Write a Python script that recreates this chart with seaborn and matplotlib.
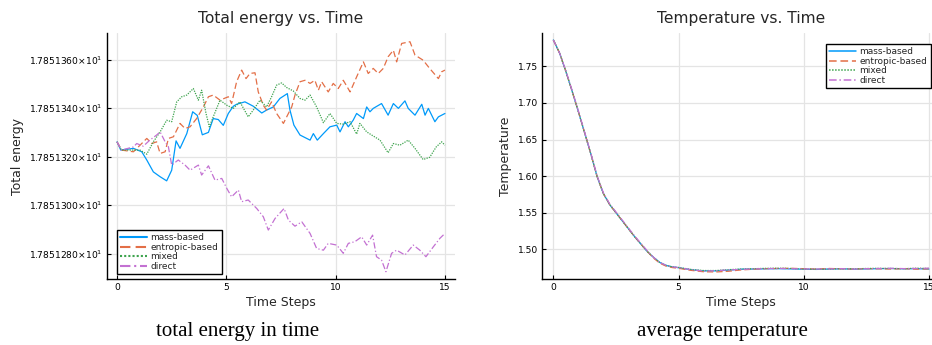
import matplotlib
matplotlib.use("Agg")
import matplotlib.pyplot as plt
import seaborn as sns
import pandas as pd
from matplotlib.lines import Line2D

# ---------------- data ----------------
methods = ["mass-based", "entropic-based", "mixed", "direct"]

t_mass = [0, 0.17, 0.75, 1.13, 1.36, 1.66, 1.97, 2.27, 2.5, 2.7, 2.88, 3.19, 3.46, 3.67, 3.9, 4.18, 4.4,
          4.63, 4.86, 5.09, 5.32, 5.47, 5.85, 6.23, 6.62, 6.84, 7.15, 7.45, 7.79, 7.91, 8.09, 8.37,
          8.83, 8.98, 9.16, 9.44, 9.74, 10.05, 10.2, 10.43, 10.58, 10.8, 10.96, 11.27, 11.42, 11.57,
          11.72, 12.1, 12.4, 12.64, 12.87, 13.17, 13.32, 13.63, 13.94, 14.09, 14.24, 14.54, 14.7, 15.0]
e_mass = [17.8513261, 17.8513227, 17.8513234, 17.8513220, 17.8513186, 17.8513137, 17.8513117,
          17.8513100, 17.8513144, 17.8513265, 17.8513234, 17.8513295, 17.8513385, 17.8513370,
          17.8513290, 17.8513300, 17.8513357, 17.8513353, 17.8513329, 17.8513378, 17.8513408,
          17.8513416, 17.8513426, 17.8513408, 17.8513380, 17.8513392, 17.8513405, 17.8513440,
          17.8513460, 17.8513392, 17.8513330, 17.8513289, 17.8513268, 17.8513295, 17.8513268,
          17.8513295, 17.8513323, 17.8513330, 17.8513302, 17.8513344, 17.8513323, 17.8513350,
          17.8513378, 17.8513357, 17.8513405, 17.8513385, 17.8513399, 17.8513419, 17.8513371,
          17.8513419, 17.8513399, 17.8513430, 17.8513399, 17.8513371, 17.8513416, 17.8513371,
          17.8513399, 17.8513344, 17.8513364, 17.8513378]

t_entr = [0, 0.2, 0.75, 1.05, 1.36, 1.59, 1.81, 1.97, 2.2, 2.35, 2.58, 2.88, 3.11, 3.34, 3.64, 3.95,
          4.18, 4.4, 4.71, 5.09, 5.24, 5.47, 5.7, 5.9, 6.08, 6.31, 6.46, 6.69, 6.84, 7.07, 7.3, 7.61,
          7.76, 7.99, 8.14, 8.37, 8.6, 8.83, 9.05, 9.21, 9.36, 9.66, 9.89, 10.12, 10.35, 10.66,
          10.96, 11.27, 11.49, 11.72, 11.95, 12.18, 12.4, 12.64, 12.79, 13.02, 13.4, 13.63, 14.0,
          14.3, 14.7, 14.85, 15.0]
e_entr = [17.8513261, 17.8513227, 17.8513220, 17.8513247, 17.8513275, 17.8513254, 17.8513261,
          17.8513213, 17.8513220, 17.8513275, 17.8513282, 17.8513337, 17.8513316, 17.8513323,
          17.8513357, 17.8513405, 17.8513447, 17.8513454, 17.8513433, 17.8513447, 17.8513419,
          17.8513509, 17.8513557, 17.8513522, 17.8513543, 17.8513546, 17.8513467, 17.8513412,
          17.8513392, 17.8513426, 17.8513378, 17.8513337, 17.8513364, 17.8513405, 17.8513454,
          17.8513509, 17.8513515, 17.8513502, 17.8513515, 17.8513474, 17.8513509, 17.8513467,
          17.8513502, 17.8513481, 17.8513515, 17.8513467, 17.8513529, 17.8513591, 17.8513543,
          17.8513564, 17.8513543, 17.8513564, 17.8513612, 17.8513639, 17.8513591, 17.8513667,
          17.8513674, 17.8513619, 17.8513598, 17.8513564, 17.8513522, 17.8513550, 17.8513557]

t_mix = [0, 0.2, 1.05, 1.36, 1.66, 1.97, 2.27, 2.5, 2.73, 2.96, 3.19, 3.49, 3.72, 3.87, 4.07, 4.22,
         4.4, 4.71, 5.02, 5.32, 5.62, 6.0, 6.23, 6.54, 6.84, 7.07, 7.3, 7.53, 7.76, 8.06, 8.37, 8.6,
         8.83, 9.13, 9.44, 9.74, 10.05, 10.35, 10.66, 10.96, 11.11, 11.42, 11.72, 12.03, 12.4, 12.64,
         12.94, 13.32, 13.63, 14.0, 14.3, 14.6, 14.85, 15.0]
e_mix = [17.8513261, 17.8513227, 17.8513227, 17.8513210, 17.8513261, 17.8513302, 17.8513350,
         17.8513344, 17.8513426, 17.8513447, 17.8513454, 17.8513481, 17.8513433, 17.8513474,
         17.8513378, 17.8513323, 17.8513364, 17.8513433, 17.8513412, 17.8513399, 17.8513426,
         17.8513364, 17.8513392, 17.8513433, 17.8513405, 17.8513447, 17.8513495, 17.8513504,
         17.8513485, 17.8513471, 17.8513440, 17.8513433, 17.8513454, 17.8513405, 17.8513340,
         17.8513378, 17.8513337, 17.8513334, 17.8513344, 17.8513293, 17.8513337, 17.8513302,
         17.8513285, 17.8513268, 17.8513216, 17.8513254, 17.8513247, 17.8513268, 17.8513234,
         17.8513188, 17.8513197, 17.8513240, 17.8513261, 17.8513247]

t_dir = [0, 0.2, 0.75, 0.9, 1.2, 1.5, 1.81, 1.97, 2.2, 2.35, 2.5, 2.8, 3.11, 3.34, 3.72, 3.87, 4.18,
         4.48, 4.79, 5.02, 5.24, 5.55, 5.7, 6.0, 6.39, 6.69, 6.92, 7.23, 7.64, 7.84, 8.14, 8.45,
         8.83, 9.13, 9.44, 9.66, 10.05, 10.35, 10.58, 10.88, 11.19, 11.42, 11.69, 11.87, 12.1,
         12.3, 12.56, 12.79, 13.17, 13.55, 13.85, 14.13, 14.47, 14.77, 15.0]
e_dir = [17.8513261, 17.8513227, 17.8513240, 17.8513254, 17.8513243, 17.8513268, 17.8513289,
         17.8513302, 17.8513261, 17.8513240, 17.8513165, 17.8513186, 17.8513165, 17.8513144,
         17.8513165, 17.8513124, 17.8513162, 17.8513103, 17.8513110, 17.8513069, 17.8513034,
         17.8513062, 17.8513014, 17.8513021, 17.8512986, 17.8512952, 17.8512897, 17.8512945,
         17.8512986, 17.8512938, 17.8512913, 17.8512931, 17.8512883, 17.8512821, 17.8512814,
         17.8512842, 17.8512835, 17.8512801, 17.8512842, 17.8512849, 17.8512869, 17.8512835,
         17.8512876, 17.8512787, 17.8512773, 17.8512725, 17.8512801, 17.8512814, 17.8512794,
         17.8512835, 17.8512814, 17.8512787, 17.8512828, 17.8512863, 17.8512883]

energy_ticks = [17.851280, 17.851300, 17.851320, 17.851340, 17.851360]
energy_labels = ["1.7851280", "1.7851300", "1.7851320", "1.7851340", "1.7851360"]

t_temp = [0, 0.25, 0.5, 0.75, 1.0, 1.25, 1.5, 1.75, 2.0, 2.25, 2.5, 2.75, 3.0, 3.25, 3.5, 3.75,
          4.0, 4.25, 4.5, 4.75, 5.0, 5.5, 6.0, 6.5, 7.0, 7.5, 8.0, 8.5, 9.0, 9.5, 10.0, 10.5, 11.0,
          11.5, 12.0, 12.5, 13.0, 13.5, 14.0, 14.5, 15.0]
T_mass = [1.786, 1.768, 1.743, 1.716, 1.688, 1.659, 1.630, 1.599, 1.576, 1.561, 1.550, 1.539,
          1.528, 1.517, 1.507, 1.497, 1.489, 1.482, 1.478, 1.476, 1.4748, 1.4720, 1.4705, 1.4705,
          1.4715, 1.4728, 1.4730, 1.4733, 1.4735, 1.4732, 1.4728, 1.4725, 1.4730, 1.4733, 1.4728,
          1.4732, 1.4735, 1.4737, 1.4733, 1.4735, 1.4730]
T_entr = [1.786, 1.768, 1.743, 1.716, 1.688, 1.659, 1.630, 1.599, 1.576, 1.561, 1.550, 1.539,
          1.528, 1.517, 1.507, 1.497, 1.488, 1.481, 1.477, 1.475, 1.4740, 1.4712, 1.4693, 1.4690,
          1.4700, 1.4718, 1.4728, 1.4735, 1.4738, 1.4740, 1.4735, 1.4730, 1.4738, 1.4733, 1.4730,
          1.4735, 1.4733, 1.4730, 1.4735, 1.4728, 1.4732]
T_mix = [1.786, 1.768, 1.743, 1.716, 1.688, 1.659, 1.630, 1.599, 1.576, 1.561, 1.550, 1.539,
         1.528, 1.517, 1.507, 1.497, 1.489, 1.482, 1.478, 1.476, 1.4752, 1.4725, 1.4710, 1.4710,
         1.4722, 1.4730, 1.4735, 1.4740, 1.4742, 1.4738, 1.4730, 1.4728, 1.4728, 1.4735, 1.4733,
         1.4738, 1.4740, 1.4738, 1.4735, 1.4742, 1.4738]
T_dir = [1.786, 1.768, 1.744, 1.717, 1.689, 1.660, 1.631, 1.600, 1.577, 1.562, 1.551, 1.540,
         1.529, 1.518, 1.508, 1.498, 1.489, 1.482, 1.478, 1.476, 1.4750, 1.4722, 1.4702, 1.4708,
         1.4718, 1.4725, 1.4732, 1.4736, 1.4738, 1.4735, 1.4732, 1.4730, 1.4732, 1.4736, 1.4730,
         1.4735, 1.4738, 1.4740, 1.4736, 1.4738, 1.4742]
temp_ticks = [1.50, 1.55, 1.60, 1.65, 1.70, 1.75]

# ---------------- style ----------------
colors = ["#009AFA", "#E36F47", "#3EA44E", "#C371D2"]
dashes = {"mass-based": "", "entropic-based": (5, 2.5), "mixed": (1, 1), "direct": (5, 1.8, 1, 1.8)}
palette = dict(zip(methods, colors))

sns.set_theme(style="white")
plt.rcParams["font.family"] = ["DejaVu Sans"]

def long_df(ts, vs):
    rows = []
    for m, t, v in zip(methods, ts, vs):
        rows.append(pd.DataFrame({"t": t, "v": v, "method": m}))
    return pd.concat(rows, ignore_index=True)

df_e = long_df([t_mass, t_entr, t_mix, t_dir], [e_mass, e_entr, e_mix, e_dir])
df_t = long_df([t_temp] * 4, [T_mass, T_entr, T_mix, T_dir])

fig = plt.figure(figsize=(9.32, 3.45), dpi=100)
ax1 = fig.add_axes([0.1148, 0.1913, 0.3734, 0.7130])
ax2 = fig.add_axes([0.5819, 0.1913, 0.4267, 0.7130])

def style_axes(ax):
    ax.grid(True, color="#e4e4e4", linewidth=0.9)
    ax.set_axisbelow(True)
    for s in ["top", "right"]:
        ax.spines[s].set_visible(False)
    for s in ["left", "bottom"]:
        ax.spines[s].set_color("black")
        ax.spines[s].set_linewidth(1.0)
    ax.tick_params(direction="in", length=3, width=0.8, colors="black",
                   labelsize=6.6, pad=3, left=True, bottom=True)
    ax.set_xticks([0, 5, 10, 15])

for ax, df in [(ax1, df_e), (ax2, df_t)]:
    sns.lineplot(data=df, x="t", y="v", hue="method", style="method", palette=palette,
                 dashes=dashes, estimator=None, sort=False, linewidth=0.9, ax=ax, legend=False)
    style_axes(ax)

ax1.set_xlim(-0.46, 15.46)
ax1.set_ylim(17.85126950, 17.85137100)
ax1.set_yticks(energy_ticks, [lab + r"$\times$10$^{1}$" for lab in energy_labels])
ax2.set_xlim(-0.44, 15.44)
ax2.set_ylim(1.4594, 1.7955)
ax2.set_yticks(temp_ticks, [f"{v:.2f}" for v in temp_ticks])

ax1.set_title("Total energy vs. Time", fontsize=11.2, pad=7)
ax2.set_title("Temperature vs. Time", fontsize=11.2, pad=7)
for ax in (ax1, ax2):
    ax.set_xlabel("Time Steps", fontsize=9, labelpad=3)
ax1.set_ylabel("Total energy", fontsize=9, labelpad=4)
ax2.set_ylabel("Temperature", fontsize=9, labelpad=4)

def make_handles(lw):
    hs = []
    for m, c in zip(methods, colors):
        h = Line2D([], [], color=c, linewidth=lw, linestyle="-")
        if dashes[m]:
            h.set_dashes(dashes[m])
        hs.append(h)
    return hs

leg_kw = dict(fontsize=6.5, frameon=True, fancybox=False, framealpha=1, edgecolor="black",
              handlelength=3.0, handletextpad=0.4, borderpad=0.35, labelspacing=0.05,
              borderaxespad=0.3)
l1 = ax1.legend(make_handles(1.5), methods, loc="lower left", bbox_to_anchor=(0.02, 0.01), **leg_kw)
l1.get_frame().set_linewidth(1.0)
l2 = ax2.legend(make_handles(1.1), methods, loc="upper right", bbox_to_anchor=(0.983, 0.965), **leg_kw)
l2.get_frame().set_linewidth(1.0)

fig.text(0.255, 0.038, "total energy in time", family="Liberation Serif", fontsize=15,
         ha="center", va="center", color="black")
fig.text(0.775, 0.038, "average temperature", family="Liberation Serif", fontsize=15,
         ha="center", va="center", color="black")

fig.savefig("out.png", dpi=100)
